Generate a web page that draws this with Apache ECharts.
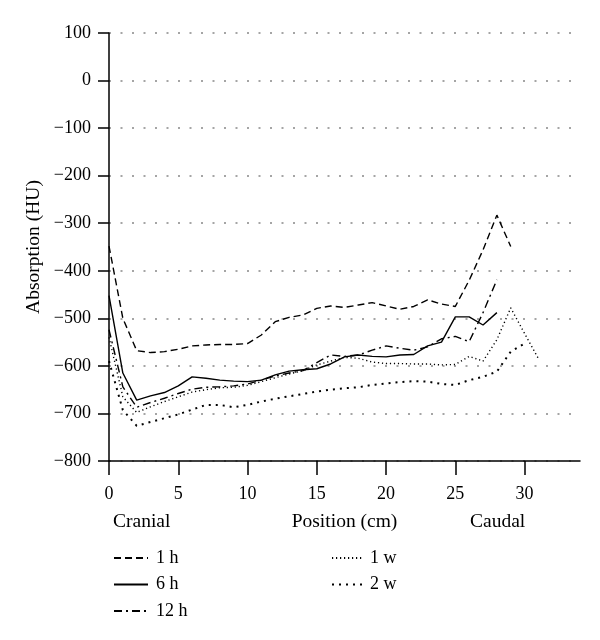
<!DOCTYPE html>
<html>
<head>
<meta charset="utf-8">
<script src="https://cdn.jsdelivr.net/npm/echarts@6/dist/echarts.min.js"></script>
<style>html,body{margin:0;padding:0;background:#fff}#c{width:600px;height:640px}</style>
</head>
<body>
<div id="c"></div>
<script>
// ---- data ----
const seriesNames = ['1 h', '6 h', '12 h', '1 w', '2 w'];
const h1 = [-348, -500, -568, -572, -570, -565, -558, -556, -555, -555, -553, -535, -507, -498, -493, -479, -474, -477, -472, -467, -474, -481, -475, -461, -470, -475, -420, -356, -283, -349];
const h6 = [-452, -615, -672, -663, -656, -642, -623, -626, -630, -632, -633, -630, -619, -611, -608, -606, -596, -581, -577, -580, -581, -577, -576, -558, -550, -497, -497, -514, -488];
const h12 = [-524, -644, -687, -677, -668, -658, -649, -645, -644, -642, -638, -630, -621, -615, -610, -593, -577, -580, -577, -567, -558, -563, -567, -560, -543, -538, -549, -488, -419];
const w1 = [-540, -665, -698, -686, -675, -665, -655, -650, -646, -645, -641, -633, -625, -617, -610, -598, -590, -582, -584, -592, -595, -595, -596, -596, -598, -597, -580, -590, -545, -478, -532, -585];
const w2 = [-590, -693, -726, -718, -710, -702, -692, -682, -682, -687, -682, -675, -669, -664, -659, -654, -650, -647, -645, -640, -637, -634, -632, -633, -638, -640, -630, -623, -612, -570, -553];
const xTicks = [0, 5, 10, 15, 20, 25, 30];
const yTicks = [-800, -700, -600, -500, -400, -300, -200, -100, 0, 100];

const toPairs = arr => arr.map((v, i) => [i, v]);
const serif = 'Liberation Serif';
const fmtY = v => (v < 0 ? '\u2212' + Math.abs(v) : String(v));

const styles = [
  { type: [7, 4], width: 1.4 },
  { type: 'solid', width: 1.4 },
  { type: [8, 4, 2, 4], width: 1.4 },
  { type: [1.2, 2.8], width: 1.4 },
  { type: [2, 5], width: 2 }
];
const datasets = [h1, h6, h12, w1, w2];

const legendBase = {
  orient: 'vertical', top: 544,
  itemHeight: 14, itemGap: 8.5,
  itemStyle: { opacity: 0 },
  textStyle: { fontFamily: serif, fontSize: 18, color: '#000', padding: [0, 0, 0, 3] }
};

const chart = echarts.init(document.getElementById('c'), null, { renderer: 'canvas' });
chart.setOption({
  animation: false,
  backgroundColor: '#fff',
  grid: { left: 109, top: 33, right: 20, bottom: 179 },
  xAxis: {
    type: 'value', min: 0, max: 34,
    name: 'Position (cm)', nameLocation: 'middle', nameGap: 51,
    nameMoveOverlap: false,
    nameTextStyle: { fontFamily: serif, fontSize: 19.5, color: '#000' },
    axisLine: { onZero: false, lineStyle: { color: '#000', width: 1.5 } },
    axisTick: { show: true, length: 14, lineStyle: { color: '#000', width: 1.5 }, customValues: xTicks },
    axisLabel: { fontFamily: serif, fontSize: 18, color: '#000', margin: 24, customValues: xTicks },
    splitLine: { show: false }
  },
  yAxis: {
    type: 'value', min: -800, max: 100, interval: 100,
    name: 'Absorption (HU)', nameLocation: 'middle', nameGap: 65,
    nameMoveOverlap: false,
    nameTextStyle: { fontFamily: serif, fontSize: 19.5, color: '#000' },
    axisLine: { show: true, lineStyle: { color: '#000', width: 1.5 } },
    axisTick: { show: true, length: 11, lineStyle: { color: '#000', width: 1.5 } },
    axisLabel: { fontFamily: serif, fontSize: 18, color: '#000', margin: 18, formatter: fmtY },
    splitLine: { show: true, lineStyle: { color: '#888', type: [2, 9.5], width: 1.5 } }
  },
  legend: [
    Object.assign({}, legendBase, { data: seriesNames.slice(0, 3), left: 108, itemWidth: 34 }),
    Object.assign({}, legendBase, { data: seriesNames.slice(3), left: 326, itemWidth: 30 })
  ],
  graphic: [
    { type: 'text', left: 113, top: 512, style: { text: 'Cranial', font: '19.5px "Liberation Serif"', fill: '#000' } },
    { type: 'text', left: 470, top: 512, style: { text: 'Caudal', font: '19.5px "Liberation Serif"', fill: '#000' } }
  ],
  series: datasets.map((d, i) => ({
    name: seriesNames[i],
    type: 'line',
    data: toPairs(d),
    symbol: 'none',
    showSymbol: false,
    itemStyle: { color: '#000' },
    lineStyle: Object.assign({ color: '#000' }, styles[i])
  }))
});
</script>
</body>
</html>
